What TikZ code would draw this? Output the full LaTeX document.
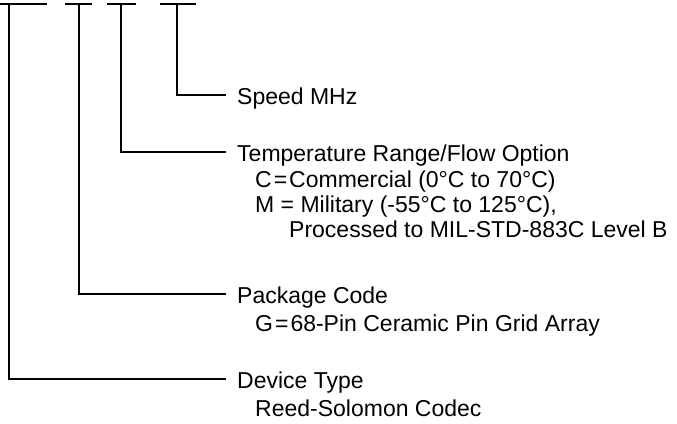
\documentclass[tikz,border=0pt]{standalone}
\usepackage{fontspec}
\setmainfont{Liberation Sans}
\newcommand{\eqsp}{\hspace{2pt}=\hspace{2pt}}
\begin{document}
\begin{tikzpicture}[x=1pt,y=-1pt,
  wire/.style={line width=2pt,line cap=butt},
  head/.style={anchor=west,inner xsep=11pt,inner ysep=0pt,text height=19pt,text depth=0pt,font=\fontsize{23}{25}\selectfont},
  desc/.style={anchor=base west,inner sep=0pt,font=\fontsize{23}{25}\selectfont}]
\useasboundingbox (0,0) rectangle (677,423);
% top bars
\coordinate (a1) at (0,4);   \coordinate (a2) at (47,4);   \coordinate (v1) at (9,4);
\coordinate (b1) at (65,4);  \coordinate (b2) at (92,4);   \coordinate (v2) at (79,4);
\coordinate (c1) at (107,4); \coordinate (c2) at (136,4);  \coordinate (v3) at (121,4);
\coordinate (d1) at (160,4); \coordinate (d2) at (196,4);  \coordinate (v4) at (177,4);
\draw[wire] (a1) -- (a2);
\draw[wire] (b1) -- (b2);
\draw[wire] (c1) -- (c2);
\draw[wire] (d1) -- (d2);
% labels
\node[head] (speed) at (226,95) {Speed MHz};
\node[head] (temp) at (226,152) {Temperature Range/Flow Option};
\node[desc] (tc) at (255,187) {C\eqsp Commercial (0°C to 70°C)};
\node[desc] (tm) at (255,212) {M = Military (-55°C to 125°C),};
\node[desc] (tp) at (289,237) {Processed to MIL-STD-883C Level B};
\node[head] (pack) at (226,294) {Package Code};
\node[desc] (pg) at (255,331) {G\eqsp 68-Pin Ceramic Pin Grid Array};
\node[head] (dev) at (226,379) {Device Type};
\node[desc] (dr) at (255,416) {Reed-Solomon Codec};
% connectors
\draw[wire] (v4) -- (v4 |- speed.west) -- (speed.west);
\draw[wire] (v3) -- (v3 |- temp.west) -- (temp.west);
\draw[wire] (v2) -- (v2 |- pack.west) -- (pack.west);
\draw[wire] (v1) -- (v1 |- dev.west) -- (dev.west);
\end{tikzpicture}
\end{document}
